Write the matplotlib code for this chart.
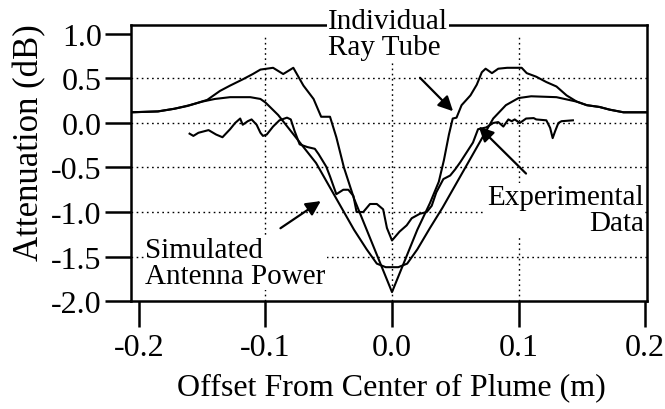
import numpy as np
import matplotlib.pyplot as plt

# -----------------------------------------------------
# Data (offset in m, attenuation in dB)
# -----------------------------------------------------
ray_x = [-0.2063, -0.185, -0.172, -0.162, -0.155, -0.146, -0.136, -0.128, -0.118,
         -0.110, -0.104, -0.094, -0.086, -0.078, -0.070, -0.062, -0.056, -0.049,
         -0.044, -0.038, -0.030, -0.020, -0.010, 0.000, 0.010, 0.020, 0.030,
         0.037, 0.041, 0.045, 0.048, 0.051, 0.055, 0.062, 0.067, 0.071, 0.074,
         0.079, 0.084, 0.091, 0.1025, 0.1065, 0.114, 0.122, 0.130, 0.138, 0.146,
         0.154, 0.164, 0.172, 0.183, 0.2016]
ray_y = [0.12, 0.13, 0.16, 0.19, 0.22, 0.26, 0.36, 0.42, 0.49,
         0.55, 0.60, 0.62, 0.55, 0.62, 0.42, 0.27, 0.07, 0.07,
         -0.16, -0.50, -0.85, -1.20, -1.55, -1.90, -1.55, -1.20, -0.90,
         -0.66, -0.42, -0.13, 0.05, 0.06, 0.20, 0.31, 0.43, 0.57, 0.61,
         0.56, 0.61, 0.62, 0.62, 0.56, 0.52, 0.46, 0.41, 0.31, 0.24,
         0.20, 0.18, 0.15, 0.12, 0.12]

sim_x = [-0.2063, -0.185, -0.172, -0.160, -0.150, -0.140, -0.128, -0.112, -0.104,
         -0.100, -0.090, -0.080, -0.070, -0.060, -0.050, -0.040, -0.030, -0.020,
         -0.012, -0.005, 0.005, 0.012, 0.020, 0.030, 0.040, 0.050, 0.060, 0.070,
         0.080, 0.090, 0.100, 0.110, 0.130, 0.146, 0.154, 0.164, 0.172, 0.183, 0.2016]
sim_y = [0.12, 0.13, 0.16, 0.20, 0.24, 0.27, 0.29, 0.29, 0.27,
         0.23, 0.09, -0.09, -0.27, -0.45, -0.70, -0.95, -1.20, -1.42,
         -1.58, -1.62, -1.62, -1.58, -1.42, -1.18, -0.95, -0.70, -0.45, -0.20,
         0.05, 0.20, 0.28, 0.30, 0.29, 0.24, 0.20, 0.18, 0.15, 0.12, 0.12]

exp_x = [-0.160, -0.157, -0.153, -0.145, -0.139, -0.134, -0.128, -0.124, -0.120,
         -0.118, -0.114, -0.111, -0.107, -0.104, -0.102, -0.099, -0.094, -0.089,
         -0.083, -0.080, -0.077, -0.073, -0.067, -0.061, -0.058, -0.052, -0.049,
         -0.044, -0.0385, -0.0345, -0.0305, -0.028, -0.0227, -0.0174, -0.012,
         -0.007, -0.004, 0.000, 0.0024, 0.006, 0.0116, 0.0156, 0.022, 0.0275,
         0.0314, 0.035, 0.0406, 0.046, 0.050, 0.054, 0.059, 0.064, 0.068, 0.0745,
         0.080, 0.084, 0.088, 0.092, 0.0946, 0.097, 0.101, 0.106, 0.112, 0.114,
         0.122, 0.125, 0.127, 0.129, 0.1315, 0.134, 0.143]
exp_y = [-0.12, -0.145, -0.11, -0.08, -0.13, -0.16, -0.07, 0.00, 0.05,
         -0.02, 0.02, 0.04, -0.02, -0.11, -0.145, -0.13, -0.04, 0.03,
         0.06, 0.04, -0.09, -0.24, -0.27, -0.29, -0.35, -0.49, -0.60,
         -0.80, -0.75, -0.75, -0.82, -1.00, -1.00, -0.91, -0.91,
         -0.97, -1.18, -1.32, -1.28, -1.22, -1.15, -1.07, -1.02, -1.00,
         -0.93, -0.78, -0.63, -0.59, -0.52, -0.44, -0.33, -0.22, -0.07, -0.05,
         0.00, 0.01, -0.04, 0.04, 0.02, 0.04, 0.00, 0.05, 0.055, 0.04,
         0.03, -0.055, -0.17, -0.09, 0.00, 0.02, 0.03]

xticks = [-0.2, -0.1, 0.0, 0.1, 0.2]
yticks = [1.0, 0.5, 0.0, -0.5, -1.0, -1.5, -2.0]
xgrid = [-0.1, 0.0, 0.1]
ygrid = [0.5, 0.0, -0.5, -1.0, -1.5]

# -----------------------------------------------------
# Figure
# -----------------------------------------------------
plt.rcParams['font.family'] = ['Liberation Serif', 'DejaVu Serif']

fig = plt.figure(figsize=(6.65, 4.10), dpi=100)
ax = fig.add_axes([0.197, 0.2634, 0.776, 0.673])
ax.set_xlim(-0.2063, 0.2016)
ax.set_ylim(-2.0, 1.1)

# dotted grid, vertical lines stop at 1.0
for g in ygrid:
    ax.axhline(g, color='black', lw=1.0, ls=(0, (1.2, 2.5)), zorder=1)
ax.vlines(xgrid, -2.0, 1.0, color='black', lw=1.0, ls=(0, (1.2, 2.5)), zorder=1)

ax.plot(ray_x, ray_y, color='black', lw=1.5, zorder=2)
ax.plot(sim_x, sim_y, color='black', lw=1.5, zorder=2)
ax.plot(exp_x, exp_y, color='black', lw=1.5, zorder=2)

for s in ax.spines.values():
    s.set_linewidth(1.8)

ax.set_xticks(xticks)
ax.set_xticklabels(['-0.2', '-0.1', '0.0', '0.1', '0.2'])
ax.set_yticks(yticks)
ax.set_yticklabels(['1.0', '0.5', '0.0', '-0.5', '-1.0', '-1.5', '-2.0'])
ax.tick_params(axis='both', direction='out', length=19, width=1.8, labelsize=23)
ax.tick_params(axis='x', pad=4)
ax.tick_params(axis='y', pad=2)

ax.set_xlabel('Offset From Center of Plume (m)', fontsize=23)
ax.set_ylabel('Attenuation (dB)', fontsize=25)
ax.xaxis.set_label_coords(0.505, -0.31)
ax.xaxis.label.set_va('center')
ax.yaxis.set_label_coords(-0.196, 0.576)
ax.yaxis.label.set_va('center')

# -----------------------------------------------------
# Annotations
# -----------------------------------------------------
box = dict(facecolor='white', edgecolor='none', pad=1)
arrow = dict(arrowstyle='-|>', color='black', lw=1.6, mutation_scale=22)

ax.text(-0.0506, 1.0, 'Individual\nRay Tube', fontsize=21, ha='left', va='center',
        linespacing=1.0, bbox=box, zorder=5, clip_on=False)
ax.annotate('', xy=(0.0498, 0.11), xytext=(0.0206, 0.53), arrowprops=arrow, zorder=6)

ax.text(0.199, -0.98, 'Experimental\nData', fontsize=21, ha='right', va='center',
        multialignment='right', linespacing=1.0, bbox=box, zorder=5)
ax.annotate('', xy=(0.067, -0.02), xytext=(0.1075, -0.59), arrowprops=arrow, zorder=6)

ax.text(-0.195, -1.57, 'Simulated\nAntenna Power', fontsize=21, ha='left', va='center',
        linespacing=1.0, bbox=box, zorder=5)
ax.annotate('', xy=(-0.0545, -0.86), xytext=(-0.090, -1.2), arrowprops=arrow, zorder=6)

fig.savefig('out.png', dpi=100)
